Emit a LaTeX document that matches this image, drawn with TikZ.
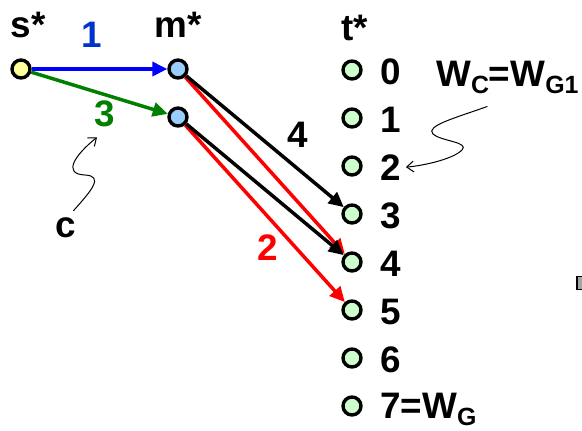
\documentclass[tikz,border=0pt]{standalone}
\usepackage{fontspec}
\setmainfont{Liberation Sans}
\usetikzlibrary{arrows.meta}

\definecolor{dotyellow}{RGB}{255,255,153}
\definecolor{dotblue}{RGB}{153,204,255}
\definecolor{dotgreen}{RGB}{204,255,204}
\definecolor{darkgreen}{RGB}{0,128,0}
\definecolor{labelblue}{RGB}{0,51,204}

\newcommand{\lowsub}[1]{\raisebox{-7bp}{\fontsize{25}{25}\selectfont #1}}

\begin{document}
\begin{tikzpicture}[x=1bp,y=-1bp,
  dot/.style={draw,circle,line width=3.4bp,minimum size=18bp,inner sep=0pt},
  edge/.style={line width=3.5bp,-{Triangle[length=15bp,width=14bp]}},
  lbl/.style={font=\fontsize{37}{37}\selectfont\bfseries,inner sep=0pt},
  wavy/.style={line width=1bp,-{Straight Barb[length=7bp,width=11bp]}}]
\useasboundingbox (0,0) rectangle (582,430);

\node[dot,fill=dotyellow] (s) at (21,69) {};
\node[dot,fill=dotblue] (m1) at (178,69) {};
\node[dot,fill=dotblue] (m2) at (178,117) {};

\foreach \i in {0,...,7}
  \node[dot,fill=dotgreen] (t\i) at (352,70+48*\i) {};
\foreach \i in {0,...,6}
  \node[lbl,anchor=base west] (n\i) at (380,84+48*\i) {\i};
\node[lbl,anchor=base west] (n7) at (380,418) {7=W\lowsub{G}};

\node[lbl,anchor=base] (ls) at (28,37) {s*};
\node[lbl,anchor=base] (lm) at (178,37) {m*};
\node[lbl,anchor=base] (lt) at (355,40) {t*};
\node[lbl,text=labelblue] (l1) at (92,35) {1};
\node[lbl,text=darkgreen] (l3) at (105,114) {3};
\node[lbl] (c) at (66,228) {c};
\node[lbl] (l4) at (298,135) {4};
\node[lbl,text=red] (l2) at (268,248) {2};
\node[lbl,anchor=base west] (wc) at (436,86) {W\lowsub{C}=W\lowsub{G1}};

\node[draw,fill=gray!70,line width=1.5bp,inner sep=0pt,minimum width=8bp,minimum height=13bp] (corner) at (581,283) {};

\path[draw,edge,blue] (s) -- (m1);
\path[draw,edge,darkgreen] (s) -- (m2);
\path[draw,edge,red] (m1) -- (t4);
\path[draw,edge] (m1) -- (t3);
\path[draw,edge,red] (m2) -- (t5);
\path[draw,edge] (m2) -- (t4);

\draw[wavy] ([xshift=-3bp,yshift=7bp]c.north east) .. controls (92,190) and (104,176) .. (85,175) .. controls (62,174) and (75,155) .. ([xshift=-8bp,yshift=-10bp]l3.south);
\draw[wavy] ([xshift=-20bp,yshift=-13bp]wc.south) .. controls (455,118) and (425,126) .. (433,134) .. controls (440,141) and (470,142) .. (462,150) .. controls (452,160) and (420,166) .. ([xshift=5bp]n2.east);
\end{tikzpicture}
\end{document}
